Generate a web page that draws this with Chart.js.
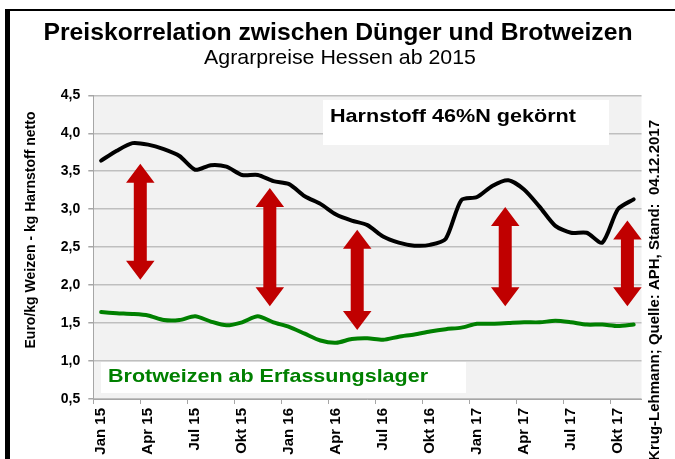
<!DOCTYPE html>
<html>
<head>
<meta charset="utf-8">
<script src="https://cdn.jsdelivr.net/npm/chart.js@4.4.1/dist/chart.umd.min.js"></script>
<style>
  html, body { margin: 0; padding: 0; background: #fff; }
</style>
</head>
<body>
<canvas id="preisChart" width="675" height="459"></canvas>
<script>
// Monate Jan 15 - Nov 17
const monate = [
    'Jan 15', 'Feb 15', 'Mrz 15', 'Apr 15', 'Mai 15', 'Jun 15', 'Jul 15', 'Aug 15', 'Sep 15', 'Okt 15', 'Nov 15', 'Dez 15',
    'Jan 16', 'Feb 16', 'Mrz 16', 'Apr 16', 'Mai 16', 'Jun 16', 'Jul 16', 'Aug 16', 'Sep 16', 'Okt 16', 'Nov 16', 'Dez 16',
    'Jan 17', 'Feb 17', 'Mrz 17', 'Apr 17', 'Mai 17', 'Jun 17', 'Jul 17', 'Aug 17', 'Sep 17', 'Okt 17', 'Nov 17'
];

// Euro/kg Harnstoff 46%N gekörnt
const harnstoff = [
    3.64, 3.77, 3.87, 3.85, 3.79, 3.70, 3.52, 3.58, 3.56, 3.45, 3.45, 3.37,
    3.33, 3.17, 3.07, 2.93, 2.85, 2.79, 2.64, 2.56, 2.52, 2.53, 2.61, 3.12,
    3.16, 3.31, 3.38, 3.26, 3.03, 2.78, 2.69, 2.69, 2.56, 3.00, 3.13
];

// Euro/kg Brotweizen ab Erfassungslager
const brotweizen = [
    1.645, 1.63, 1.62, 1.60, 1.54, 1.54, 1.59, 1.52, 1.47, 1.51, 1.59, 1.51,
    1.45, 1.36, 1.27, 1.24, 1.29, 1.30, 1.28, 1.32, 1.35, 1.39, 1.42, 1.44,
    1.49, 1.49, 1.50, 1.51, 1.51, 1.53, 1.51, 1.48, 1.48, 1.46, 1.48
];

// Doppelpfeile (Monatsindex, oberes und unteres Ende in Euro/kg)
const pfeilIndex = [2.5, 10.77, 16.35, 25.8, 33.6];
const pfeilOben = [3.60, 3.28, 2.73, 3.03, 2.85];
const pfeilUnten = [2.07, 1.72, 1.41, 1.72, 1.72];

const FONT = "'Liberation Sans', Arial, sans-serif";

function drawStretched(ctx, text, x, y, size, bold, color, width, align) {
    ctx.save();
    ctx.font = (bold ? 'bold ' : '') + size + 'px ' + FONT;
    ctx.fillStyle = color;
    ctx.textBaseline = 'middle';
    ctx.textAlign = align;
    const sx = width ? width / ctx.measureText(text).width : 1;
    ctx.translate(x, y);
    ctx.scale(sx, 1);
    ctx.fillText(text, 0, 0);
    ctx.restore();
}

function drawArrow(ctx, x, yTop, yBot) {
    const hw = 14.25, sw = 6.5, hl = 19;
    ctx.beginPath();
    ctx.moveTo(x, yTop);
    ctx.lineTo(x + hw, yTop + hl);
    ctx.lineTo(x + sw, yTop + hl);
    ctx.lineTo(x + sw, yBot - hl);
    ctx.lineTo(x + hw, yBot - hl);
    ctx.lineTo(x, yBot);
    ctx.lineTo(x - hw, yBot - hl);
    ctx.lineTo(x - sw, yBot - hl);
    ctx.lineTo(x - sw, yTop + hl);
    ctx.lineTo(x - hw, yTop + hl);
    ctx.closePath();
    ctx.fill();
}

const decorPlugin = {
    id: 'decor',
    beforeDraw(chart) {
        const { ctx, chartArea: a } = chart;
        ctx.save();
        ctx.fillStyle = '#f2f2f2';
        ctx.fillRect(a.left, a.top, a.right - a.left, a.bottom - a.top);
        ctx.restore();
    },
    beforeDatasetsDraw(chart) {
        const ctx = chart.ctx;
        ctx.save();
        ctx.fillStyle = '#ffffff';
        ctx.fillRect(323, 100, 286, 45);
        ctx.fillRect(101, 362, 365, 31);
        ctx.restore();
        drawStretched(ctx, 'Harnstoff 46%N gekörnt', 330, 117, 18.5, true, '#000000', 246, 'left');
        drawStretched(ctx, 'Brotweizen ab Erfassungslager', 108, 377, 18.5, true, '#008000', 320, 'left');
    },
    afterDatasetsDraw(chart) {
        const ctx = chart.ctx;
        const x = chart.scales.x, y = chart.scales.y;
        ctx.save();
        ctx.fillStyle = '#c00000';
        pfeilIndex.forEach((idx, i) => {
            drawArrow(ctx, x.getPixelForValue(idx), y.getPixelForValue(pfeilOben[i]), y.getPixelForValue(pfeilUnten[i]));
        });
        ctx.restore();
    },
    afterDraw(chart) {
        const ctx = chart.ctx;
        // Titel
        drawStretched(ctx, 'Preiskorrelation zwischen Dünger und Brotweizen', 338, 33, 24.5, true, '#000000', 589, 'center');
        drawStretched(ctx, 'Agrarpreise Hessen ab 2015', 340, 58, 21, false, '#000000', 272, 'center');

        // Achsentitel
        ctx.save();
        ctx.fillStyle = '#000000';
        ctx.font = 'bold 14px ' + FONT;
        ctx.textBaseline = 'middle';
        ctx.translate(31, 230);
        ctx.rotate(-Math.PI / 2);
        ctx.textAlign = 'center';
        ctx.fillText('Euro/kg Weizen - kg Harnstoff netto', 0, 0);
        ctx.restore();

        // Quelle
        ctx.save();
        ctx.fillStyle = '#000000';
        ctx.font = 'bold 15px ' + FONT;
        ctx.textBaseline = 'middle';
        ctx.translate(655, 120);
        ctx.rotate(-Math.PI / 2);
        ctx.textAlign = 'right';
        ctx.fillText('Krug-Lehmann; Quelle: APH, Stand:  04.12.2017', 0, 0);
        ctx.restore();

        // Rahmen
        ctx.save();
        ctx.fillStyle = '#000000';
        ctx.fillRect(5, 9, 675, 2);
        ctx.fillRect(5, 9, 5, 450);
        ctx.restore();
    }
};

new Chart(document.getElementById('preisChart').getContext('2d'), {
    type: 'line',
    data: {
        labels: monate,
        datasets: [{
            label: 'Harnstoff 46%N gekörnt',
            data: harnstoff,
            borderColor: '#000000',
            borderWidth: 4,
            pointRadius: 0,
            tension: 0.25,
            borderCapStyle: 'round'
        }, {
            label: 'Brotweizen ab Erfassungslager',
            data: brotweizen,
            borderColor: '#008000',
            borderWidth: 4,
            pointRadius: 0,
            tension: 0.25,
            borderCapStyle: 'round'
        }]
    },
    options: {
        responsive: false,
        animation: false,
        layout: {
            padding: { left: 0, right: 33.5, top: 95.3, bottom: 0 }
        },
        plugins: {
            legend: { display: false },
            tooltip: { enabled: false }
        },
        scales: {
            x: {
                offset: true,
                afterFit: scale => { scale.height = 60; },
                grid: {
                    offset: true,
                    drawOnChartArea: false,
                    tickLength: 5,
                    tickColor: c => (c.index % 3 === 0 ? '#a6a6a6' : 'rgba(0,0,0,0)')
                },
                border: { color: '#a6a6a6', width: 1 },
                ticks: {
                    autoSkip: false,
                    minRotation: 90,
                    maxRotation: 90,
                    padding: 4,
                    color: '#000000',
                    font: { family: FONT, size: 15, weight: 'bold' },
                    callback: function (value, index) {
                        return index % 3 === 0 ? this.getLabelForValue(value) : '';
                    }
                }
            },
            y: {
                min: 0.5,
                max: 4.5,
                afterFit: scale => { scale.width = 93.3; },
                grid: {
                    color: '#bfbfbf',
                    lineWidth: 1.5,
                    tickLength: 5,
                    tickColor: '#a6a6a6'
                },
                border: { color: '#a6a6a6', width: 1 },
                ticks: {
                    stepSize: 0.5,
                    padding: 8,
                    color: '#000000',
                    font: { family: FONT, size: 14, weight: 'bold' },
                    callback: v => v.toFixed(1).replace('.', ',')
                }
            }
        }
    },
    plugins: [decorPlugin]
});
</script>
</body>
</html>
